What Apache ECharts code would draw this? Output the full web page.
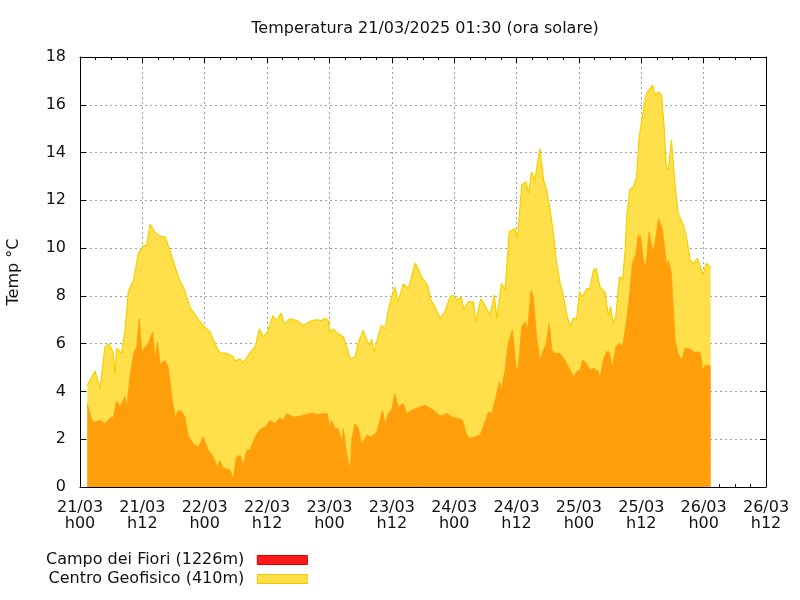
<!DOCTYPE html>
<html>
<head>
<meta charset="utf-8">
<script src="https://cdn.jsdelivr.net/npm/echarts@6/dist/echarts.min.js"></script>
<style>html,body{margin:0;padding:0;background:#fff}#c{width:800px;height:600px}</style>
</head>
<body>
<div id="c"></div>
<script>
// hours since 21/03 00:00
const tickLabels = ['21/03\nh00','21/03\nh12','22/03\nh00','22/03\nh12','23/03\nh00','23/03\nh12','24/03\nh00','24/03\nh12','25/03\nh00','25/03\nh12','26/03\nh00','26/03\nh12'];

const centroHours = [1.4,1.9,2.9,3.85,4.8,5.6,6.4,6.7,7.05,8.0,8.66,9.3,10.3,11.2,12.2,12.8,13.5,14.4,15.4,16.4,17.3,18.3,19.2,20.2,21.2,22.5,23.9,25,26,26.9,28.2,29.5,29.8,30.8,31.4,32.7,
 33.7,34.5,35.3,36.2,37.1,37.8,38.7,39.3,40.4,41.7,43,44.3,45.5,46.5,47.1,47.8,48.1,48.7,49.7,50.7,51.3,52,52.9,53.6,54.5,55.2,55.8,56.1,56.6,57.4,58,58.7,59.3,60,60.6,61.2,62.2,63.2,63.8,64.5,65.1,
 65.7,66.4,67,67.5,68.3,69.3,70.2,71.2,71.8,72.5,73.4,73.8,74.7,75.7,76.2,77.1,77.9,78.9,79.7,80.2,81.1,81.8,82.6,83.7,84.2,85,85.8,86.3,86.9,87.5,88.5,89.2,89.8,90.4,91.1,91.7,92.4,93,93.6,94.3,94.9,95.6,96.1,96.7,97.5,
 98.1,98.8,99.3,100.05,101,101.7,102.1,102.6,103.1,103.8,104.4,104.9,105.2,105.8,106.5,107.1,107.6,108.1,108.5,109,109.7,110.2,110.6,111.3,111.9,112.4,112.8,113.2,113.8,114.5,115.1,116.1,116.7,117.4,118,118.8,119.6,119.9,120.5,120.9,121.35];
const centroTemps = [4.25,4.46,4.85,4.1,5.86,6.0,5.6,4.7,5.8,5.6,6.55,8.2,8.65,9.76,10.1,10.1,11.0,10.67,10.5,10.46,9.9,9.2,8.65,8.2,7.5,7.1,6.7,6.5,6.0,5.6,5.6,5.45,5.27,5.37,5.2,5.62,
 5.86,6.62,6.28,6.55,7.18,6.97,7.28,6.83,7.04,6.97,6.76,6.95,7.0,6.97,7.07,6.97,6.49,6.62,6.41,6.28,5.86,5.37,5.44,6.07,6.55,6.14,5.93,6.2,5.65,6.35,6.76,6.62,7.38,8.0,8.37,7.74,8.5,8.3,8.79,9.37,9.13,
 8.79,8.6,8.38,7.82,7.55,7.06,7.34,7.96,8.03,7.82,7.96,7.41,7.75,7.75,6.92,7.89,7.61,7.2,8.03,7.06,8.52,8.24,10.68,10.82,10.4,12.64,12.78,12.29,13.19,12.85,14.17,12.85,12.43,11.66,10.61,9.36,8.52,8.03,7.27,6.71,7.06,7.06,8.17,7.96,8.31,
 8.3,9.08,9.15,8.38,8.17,7.13,7.55,6.85,7.13,8.8,8.66,9.92,11.31,12.43,12.57,12.98,14.66,15.36,15.91,16.47,16.68,16.82,16.4,16.54,16.4,15.08,13.4,13.26,14.52,12.64,11.45,10.96,10.47,9.5,9.36,9.57,9.08,8.87,9.36,9.29,9.15];

const campoHours = [1.4,2.25,2.9,3.85,4.8,5.8,6.4,7.05,7.7,8.66,9.0,9.6,10.3,10.9,11.4,11.9,12.5,13.1,14,14.4,14.9,15.4,16.4,17,17.6,18.3,18.9,19.6,20.2,20.8,21.8,22.8,23.7,24.7,25.7,26.3,26.9,27.6,28.2,28.9,29.5,30.1,30.8,31.4,32.1,
 32.7,33.7,34.6,35.6,36.6,37.5,38.5,39.1,39.8,41.05,42.3,43.6,44.6,45.5,46.5,47.6,48,48.4,49.1,49.7,50.35,50.7,51.3,52,52.3,52.9,53.6,54.2,55.2,56.1,57.1,57.7,58.2,58.7,59.3,60,60.6,61.2,62.2,62.9,63.8,64.5,65.4,
 66.4,68,69.3,70.6,71.8,72.8,73.6,74.4,75,76,77,77.6,78.6,79.2,79.9,80.7,81.1,81.8,82.4,83.2,83.9,84.3,85,85.6,86.1,86.8,87.2,87.9,88.5,89.2,89.7,90.3,90.8,91.4,92.4,93.3,94.3,95,95.6,96.2,96.7,97.5,
 98.1,98.9,99.7,100.05,100.7,101.3,101.8,102.5,103.1,103.8,104.4,105.1,105.7,106.3,107,107.4,107.9,108.4,108.9,109.5,110.2,110.6,111.3,111.7,112.1,112.6,112.9,113.2,113.8,114.5,115.1,115.8,116.4,117.1,117.7,118.3,119,119.4,119.8,120.3,120.9,121.35];
const campoTemps = [3.49,2.8,2.7,2.8,2.65,2.9,2.9,3.6,3.35,3.8,3.35,4.6,5.58,5.86,7.04,5.65,5.86,6.0,6.5,5.3,6.07,5.16,5.3,5.0,3.9,2.93,3.2,3.14,2.93,2.16,1.8,1.67,2.1,1.53,1.25,0.84,1.1,0.77,0.77,0.7,0.35,1.25,1.32,0.97,1.53,
 1.55,2.1,2.4,2.51,2.79,2.65,2.9,2.79,3.07,2.93,2.96,3.04,3.1,3.04,3.07,3.07,2.51,2.79,2.44,2.44,1.95,2.44,1.4,0.7,2.02,2.65,2.44,1.81,2.16,2.1,2.3,2.79,3.2,2.65,3.07,3.28,3.9,3.35,3.49,3.07,3.2,3.28,3.35,
 3.42,3.22,2.97,3.08,2.91,2.87,2.8,2.18,2.04,2.1,2.18,2.52,3.15,3.08,3.64,4.41,4.13,4.9,6.01,6.57,5.03,4.9,6.71,6.92,6.57,8.24,7.96,6.22,5.31,5.73,6.01,6.85,5.73,5.59,5.59,5.31,4.9,4.62,4.83,4.9,5.31,5.17,
 4.9,4.97,4.83,4.55,5.31,5.66,5.66,5.03,5.87,6.01,5.87,6.85,7.96,9.36,9.78,10.54,10.47,9.5,9.22,10.68,9.85,10.13,11.24,11.03,10.75,9.78,9.22,9.5,8.94,6.15,5.59,5.31,5.8,5.8,5.73,5.62,5.66,5.59,4.9,5.1,5.1,5.03];

const pair = (hs, vs) => hs.map((h, i) => [h, vs[i]]);
const FONT = 'DejaVu Sans';
const FS = 16;
const chart = echarts.init(document.getElementById('c'), null, {renderer: 'canvas'});
const gridLine = {show: true, lineStyle: {color: '#a0a0a0', type: [2, 3], width: 1}};
chart.setOption({
  animation: false,
  textStyle: {fontFamily: FONT},
  title: {text: 'Temperatura 21/03/2025 01:30 (ora solare)', left: 420, textAlign: 'center', top: 16,
    textStyle: {fontFamily: FONT, fontSize: FS, fontWeight: 'normal', color: '#111'}},
  grid: {left: 80, right: 34, top: 57, bottom: 113, containLabel: false, outerBoundsMode: 'none'},
  legend: {
    orient: 'vertical', left: 46, top: 552, align: 'right', itemWidth: 50, itemHeight: 9, itemGap: 3,
    icon: 'rect', padding: 0,
    textStyle: {fontFamily: FONT, fontSize: FS, color: '#111', padding: [0, 8, 0, 0]},
    data: [
      {name: 'Campo dei Fiori (1226m)', itemStyle: {color: '#ff1a1a', borderColor: '#e00000', borderWidth: 1}},
      {name: 'Centro Geofisico (410m)', itemStyle: {color: '#ffe04b', borderColor: '#f0c800', borderWidth: 1}}
    ]
  },
  xAxis: [
    {type: 'value', min: 0, max: 132, interval: 12, position: 'bottom',
     axisLine: {show: true, onZero: false, lineStyle: {color: '#000', width: 1}},
     axisTick: {show: true, inside: true, length: 6, lineStyle: {color: '#000'}},
     minorTick: {show: true, splitNumber: 4, length: 3, lineStyle: {color: '#000'}},
     axisLabel: {fontFamily: FONT, fontSize: FS, color: '#111', margin: 13, lineHeight: 16,
       formatter: v => tickLabels[Math.round(v / 12)]},
     splitLine: gridLine},
    {type: 'value', min: 0, max: 132, interval: 12, position: 'top',
     axisLine: {show: true, onZero: false, lineStyle: {color: '#000', width: 1}},
     axisTick: {show: true, inside: true, length: 6, lineStyle: {color: '#000'}},
     minorTick: {show: true, splitNumber: 4, length: 3, lineStyle: {color: '#000'}},
     axisLabel: {show: false}, splitLine: {show: false}}
  ],
  yAxis: [
    {type: 'value', min: 0, max: 18, interval: 2, position: 'left',
     name: 'Temp °C', nameLocation: 'middle', nameGap: 58, nameRotate: 90,
     nameTextStyle: {fontFamily: FONT, fontSize: FS, color: '#111'},
     axisLine: {show: true, onZero: false, lineStyle: {color: '#000', width: 1}},
     axisTick: {show: true, inside: true, length: 6, lineStyle: {color: '#000'}},
     axisLabel: {fontFamily: FONT, fontSize: FS, color: '#111', margin: 14},
     splitLine: gridLine},
    {type: 'value', min: 0, max: 18, interval: 2, position: 'right',
     axisLine: {show: true, onZero: false, lineStyle: {color: '#000', width: 1}},
     axisTick: {show: true, inside: true, length: 6, lineStyle: {color: '#000'}},
     axisLabel: {show: false}, splitLine: {show: false}}
  ],
  series: [
    {name: 'Centro Geofisico (410m)', type: 'line', xAxisIndex: 0, yAxisIndex: 0, data: pair(centroHours, centroTemps),
     showSymbol: false, symbol: 'none', color: '#ffe04b',
     lineStyle: {color: '#f5cf00', width: 1.2}, areaStyle: {color: '#ffe04b', opacity: 1}, z: 2},
    {name: 'Campo dei Fiori (1226m)', type: 'line', xAxisIndex: 0, yAxisIndex: 0, data: pair(campoHours, campoTemps),
     showSymbol: false, symbol: 'none', color: '#ff1a1a',
     lineStyle: {color: '#ff9e0b', width: 0.8}, areaStyle: {color: '#ff9e0b', opacity: 1}, z: 3}
  ]
});
</script>
</body>
</html>
